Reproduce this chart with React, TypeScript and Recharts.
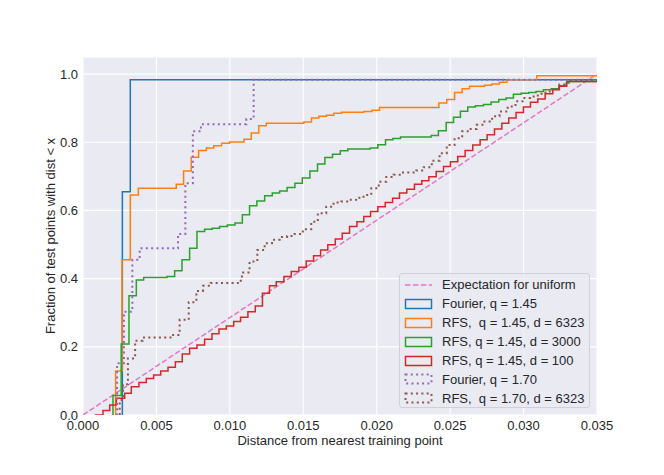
import { LineChart, Line, XAxis, YAxis, CartesianGrid } from "recharts"

// tick positions
const xTicks = [0, 0.005, 0.01, 0.015, 0.02, 0.025, 0.03, 0.035]
const yTicks = [0, 0.2, 0.4, 0.6, 0.8, 1.0]

// [distance, fraction] – each pair is where the step function jumps
const uniformExpectation: [number, number][] = [[0, 0], [0.035, 1.0]]

const fourier145: [number, number][] = [
  [0.00268, 0], [0.00268, 0.655], [0.00322, 0.983], [0.035, 0.983],
]

const rfs145d6323: [number, number][] = [
  [0.00222, 0], [0.00222, 0.129], [0.00266, 0.455], [0.00322, 0.645], [0.00377, 0.665],
  [0.00635, 0.677], [0.00685, 0.716], [0.00737, 0.756], [0.00787, 0.776], [0.0084, 0.783],
  [0.0089, 0.79], [0.00944, 0.797], [0.00998, 0.801], [0.01096, 0.809], [0.01146, 0.827],
  [0.01197, 0.848], [0.01248, 0.856], [0.01504, 0.859], [0.01556, 0.871], [0.01606, 0.876],
  [0.01658, 0.879], [0.01708, 0.885], [0.0176, 0.888], [0.01912, 0.89], [0.01967, 0.894],
  [0.02019, 0.902], [0.02423, 0.915], [0.02477, 0.925], [0.0253, 0.946], [0.02582, 0.957],
  [0.02632, 0.964], [0.02734, 0.967], [0.02783, 0.971], [0.02836, 0.976], [0.02886, 0.983],
  [0.0309, 0.995], [0.035, 0.995],
]

const rfs145d3000: [number, number][] = [
  [0.00204, 0], [0.00204, 0.057], [0.0026, 0.208], [0.00313, 0.35], [0.00363, 0.396],
  [0.00413, 0.403], [0.00572, 0.406], [0.00624, 0.423], [0.00674, 0.455], [0.00726, 0.489],
  [0.00776, 0.538], [0.00828, 0.545], [0.0088, 0.548], [0.0093, 0.553], [0.00983, 0.557],
  [0.01035, 0.563], [0.01085, 0.587], [0.01134, 0.614], [0.01184, 0.628], [0.01237, 0.643],
  [0.01289, 0.651], [0.01339, 0.657], [0.0139, 0.667], [0.01443, 0.68], [0.01493, 0.695],
  [0.01545, 0.716], [0.01597, 0.736], [0.01647, 0.755], [0.01699, 0.765], [0.01752, 0.775],
  [0.01803, 0.78], [0.01956, 0.783], [0.02008, 0.793], [0.0206, 0.807], [0.0211, 0.811],
  [0.02162, 0.815], [0.02371, 0.82], [0.0242, 0.834], [0.02473, 0.858], [0.02523, 0.873],
  [0.0257, 0.891], [0.0262, 0.903], [0.02672, 0.907], [0.02727, 0.911], [0.02779, 0.918],
  [0.02831, 0.925], [0.02881, 0.93], [0.02931, 0.941], [0.02983, 0.944], [0.03035, 0.946],
  [0.03085, 0.949], [0.03135, 0.954], [0.03188, 0.957], [0.0324, 0.966], [0.0329, 0.974],
  [0.0331, 0.978], [0.035, 0.978],
]

const rfs145d100: [number, number][] = [
  [0.0008, 0], [0.00136, 0.013], [0.00182, 0.029], [0.00227, 0.049], [0.00284, 0.064],
  [0.00329, 0.083], [0.00381, 0.095], [0.00431, 0.107], [0.00481, 0.117], [0.00529, 0.129],
  [0.00579, 0.14], [0.00629, 0.156], [0.00676, 0.179], [0.00726, 0.196], [0.00776, 0.205],
  [0.00828, 0.222], [0.00878, 0.238], [0.00926, 0.252], [0.00976, 0.261], [0.01026, 0.274],
  [0.01073, 0.287], [0.01123, 0.303], [0.01173, 0.32], [0.01222, 0.357], [0.0127, 0.379],
  [0.01316, 0.391], [0.01368, 0.406], [0.01418, 0.421], [0.0147, 0.433], [0.0152, 0.452],
  [0.0157, 0.467], [0.01618, 0.484], [0.01667, 0.499], [0.01718, 0.516], [0.01765, 0.533],
  [0.01815, 0.553], [0.01865, 0.567], [0.01912, 0.582], [0.01958, 0.597], [0.02008, 0.611],
  [0.02058, 0.623], [0.02108, 0.636], [0.02155, 0.651], [0.02205, 0.662], [0.02257, 0.677],
  [0.02307, 0.687], [0.02355, 0.699], [0.02405, 0.714], [0.02455, 0.729], [0.02502, 0.743],
  [0.02552, 0.758], [0.02602, 0.776], [0.02654, 0.792], [0.02704, 0.807], [0.02752, 0.822],
  [0.02802, 0.839], [0.02852, 0.856], [0.02899, 0.871], [0.02949, 0.887], [0.02999, 0.903],
  [0.03047, 0.917], [0.03097, 0.927], [0.03147, 0.942], [0.03199, 0.954], [0.03244, 0.964],
  [0.03294, 0.978], [0.035, 0.978],
]

const fourier170: [number, number][] = [
  [0.00228, 0], [0.00232, 0.152], [0.00279, 0.303], [0.00336, 0.455], [0.00386, 0.489],
  [0.00647, 0.531], [0.00697, 0.68], [0.00748, 0.832], [0.00803, 0.853], [0.01112, 0.868],
  [0.01162, 0.983], [0.035, 0.983],
]

const rfs170d6323: [number, number][] = [
  [0.0025, 0], [0.0025, 0.044], [0.00272, 0.09], [0.00306, 0.166], [0.00355, 0.218],
  [0.00405, 0.227], [0.00606, 0.235], [0.00658, 0.279], [0.0072, 0.331], [0.00772, 0.364],
  [0.00817, 0.379], [0.00869, 0.387], [0.01067, 0.394], [0.01082, 0.418], [0.01134, 0.45],
  [0.01187, 0.484], [0.01237, 0.504], [0.01287, 0.514], [0.01339, 0.522], [0.0139, 0.525],
  [0.01441, 0.531], [0.01497, 0.545], [0.01554, 0.567], [0.01599, 0.592], [0.01656, 0.611],
  [0.01706, 0.623], [0.01758, 0.626], [0.01815, 0.631], [0.0186, 0.637], [0.0191, 0.645],
  [0.01963, 0.665], [0.02014, 0.684], [0.02065, 0.698], [0.02114, 0.705], [0.02167, 0.711],
  [0.0227, 0.717], [0.0232, 0.727], [0.02375, 0.746], [0.02428, 0.768], [0.02477, 0.792],
  [0.0253, 0.812], [0.02582, 0.832], [0.02632, 0.839], [0.02681, 0.851], [0.02734, 0.861],
  [0.02786, 0.876], [0.02836, 0.89], [0.02892, 0.905], [0.02945, 0.92], [0.02994, 0.93],
  [0.03045, 0.934], [0.03097, 0.942], [0.03149, 0.949], [0.03199, 0.956], [0.03244, 0.969],
  [0.03297, 0.981], [0.035, 0.981],
]

const FONT = "'Liberation Sans', Arial, sans-serif"
const TEXT = "#262626"

const series = [
  { name: "Fourier, q = 1.45", data: fourier145, color: "#1f77b4", dotted: false },
  { name: "RFS,  q = 1.45, d = 6323", data: rfs145d6323, color: "#ff7f0e", dotted: false },
  { name: "RFS, q = 1.45, d = 3000", data: rfs145d3000, color: "#2ca02c", dotted: false },
  { name: "RFS, q = 1.45, d = 100", data: rfs145d100, color: "#d62728", dotted: false },
  { name: "Fourier, q = 1.70", data: fourier170, color: "#9467bd", dotted: true },
  { name: "RFS,  q = 1.70, d = 6323", data: rfs170d6323, color: "#8c564b", dotted: true },
]

const toPoints = (pairs: [number, number][]) => pairs.map(([x, y]) => ({ x, y }))

function LegendBox() {
  return (
    <div
      style={{
        position: "absolute",
        left: 399,
        top: 273,
        width: 191,
        height: 135,
        boxSizing: "border-box",
        border: "1px solid #d0d0d6",
        borderRadius: 3,
        background: "rgba(234,234,242,0.8)",
        paddingTop: 1.5,
        fontFamily: FONT,
        fontSize: 13,
        color: TEXT,
      }}
    >
      <div style={{ display: "flex", alignItems: "center", height: 18.9 }}>
        <svg width={42} height={12} style={{ flex: "none" }}>
          <line x1={5} x2={32} y1={6} y2={6} stroke="#e377c2" strokeWidth={1.5} strokeDasharray="5.5 2.4" />
        </svg>
        <span style={{ whiteSpace: "pre" }}>Expectation for uniform</span>
      </div>
      {series.map((s) => (
        <div key={s.name} style={{ display: "flex", alignItems: "center", height: 18.9 }}>
          <svg width={42} height={12} style={{ flex: "none" }}>
            <rect
              x={5.5}
              y={1.5}
              width={26}
              height={9}
              fill="none"
              stroke={s.color}
              strokeWidth={s.dotted ? 2 : 1.5}
              strokeDasharray={s.dotted ? "2 3.3" : undefined}
            />
          </svg>
          <span style={{ whiteSpace: "pre" }}>{s.name}</span>
        </div>
      ))}
    </div>
  )
}

export default function App() {
  return (
    <div style={{ position: "absolute", left: 0, top: 0, width: 664, height: 475, background: "#fff" }}>
      <LineChart width={664} height={475} margin={{ top: 57, right: 67, bottom: 0, left: 0 }}>
        <CartesianGrid stroke="#ffffff" strokeWidth={1.2} fill="#EAEAF2" fillOpacity={1} />
        <XAxis
          dataKey="x"
          type="number"
          domain={[0, 0.035]}
          ticks={xTicks}
          interval={0}
          allowDataOverflow
          height={60}
          tickLine={false}
          axisLine={false}
          tickSize={0}
          tickMargin={6}
          tickFormatter={(v: number) => v.toFixed(3)}
          tick={{ fill: TEXT, fontSize: 13, fontFamily: FONT }}
          label={{
            value: "Distance from nearest training point",
            position: "insideBottom",
            offset: 30,
            fill: TEXT,
            fontSize: 13,
            fontFamily: FONT,
          }}
        />
        <YAxis
          dataKey="y"
          type="number"
          domain={[0, 1.05]}
          ticks={yTicks}
          interval={0}
          allowDataOverflow
          width={83}
          tickLine={false}
          axisLine={false}
          tickSize={0}
          tickMargin={5}
          tickFormatter={(v: number) => v.toFixed(1)}
          tick={{ fill: TEXT, fontSize: 13, fontFamily: FONT }}
          label={{
            value: "Fraction of test points with dist < x",
            angle: -90,
            position: "insideLeft",
            offset: 50.7,
            fill: TEXT,
            fontSize: 13,
            fontFamily: FONT,
            style: { textAnchor: "middle" },
          }}
        />
        <Line
          data={toPoints(uniformExpectation)}
          dataKey="y"
          type="linear"
          stroke="#e377c2"
          strokeWidth={1.5}
          strokeDasharray="5.5 2.4"
          dot={false}
          activeDot={false}
          isAnimationActive={false}
        />
        {series.map((s) => (
          <Line
            key={s.name}
            data={toPoints(s.data)}
            dataKey="y"
            type="stepAfter"
            stroke={s.color}
            strokeWidth={s.dotted ? 2 : 1.5}
            strokeDasharray={s.dotted ? "2 3.3" : undefined}
            dot={false}
            activeDot={false}
            isAnimationActive={false}
          />
        ))}
      </LineChart>
      <LegendBox />
    </div>
  )
}
